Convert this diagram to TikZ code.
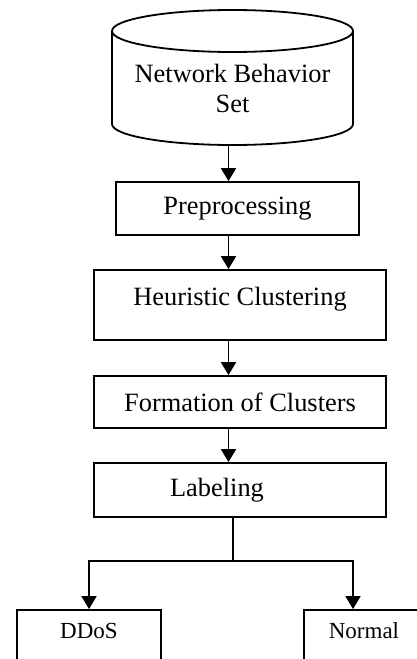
\documentclass[tikz,border=0pt]{standalone}
\usepackage{fontspec}
\setmainfont{Liberation Serif}
\usetikzlibrary{shapes.geometric,arrows.meta,positioning,calc}

\begin{document}
\begin{tikzpicture}[x=1pt,y=-1pt,line width=1.8pt,
    procbox/.style={draw, rectangle, inner sep=0pt, minimum width=292, font=\fontsize{26.4}{30}\selectfont},
    outbox/.style={draw, rectangle, inner sep=0pt, minimum height=60, text height=28pt, text depth=32pt, font=\fontsize{23}{27}\selectfont},
    flow/.style={-{Triangle[width=15pt,length=13pt]}}]

    \useasboundingbox (0,0) rectangle (417,659);
    \clip (0,0) rectangle (417,659);

    % Data store
    \node[inner sep=0pt, align=center, font=\fontsize{26.4}{30}\selectfont] (nbs) at (232.5,88) {Network Behavior\\Set};
    \draw (112,31) -- (112,124) arc[start angle=180, end angle=0, x radius=120.5, y radius=21] -- (353,31);
    \draw (232.5,31) ellipse[x radius=120.5, y radius=21];
    \coordinate (nbsbase) at (232.5,145);

    % Processing steps
    \node[procbox, minimum width=243, minimum height=53] (pre) at (237.5,208.5) {Preprocessing};
    \node[procbox, text height=35pt, text depth=35pt] (heur) at (240,305) {Heuristic Clustering};
    \node[procbox, minimum height=52] (form) at (240,402) {Formation of Clusters};
    \node[procbox, minimum height=54] (lab) at (240,490) {Labeling\hspace{46pt}\mbox{}};

    % Outcomes
    \node[outbox, minimum width=144] (ddos) at (89,640) {DDoS};
    \node[outbox, minimum width=120] (normal) at (364,640) {Normal};

    % Flow
    \coordinate (axis) at (228.5,0);
    \coordinate (split) at (233,561);
    \coordinate (nrm) at (353,0);
    \draw[flow] (nbsbase -| axis) -- (pre.north -| axis);
    \draw[flow] (pre.south -| axis) -- (heur.north -| axis);
    \draw[flow] (heur.south -| axis) -- (form.north -| axis);
    \draw[flow] (form.south -| axis) -- (lab.north -| axis);
    \draw (lab.south -| split) -- (split);
    \draw[flow] (split) -| (ddos.north);
    \draw[flow] (split) -| (normal.north -| nrm);
\end{tikzpicture}
\end{document}
